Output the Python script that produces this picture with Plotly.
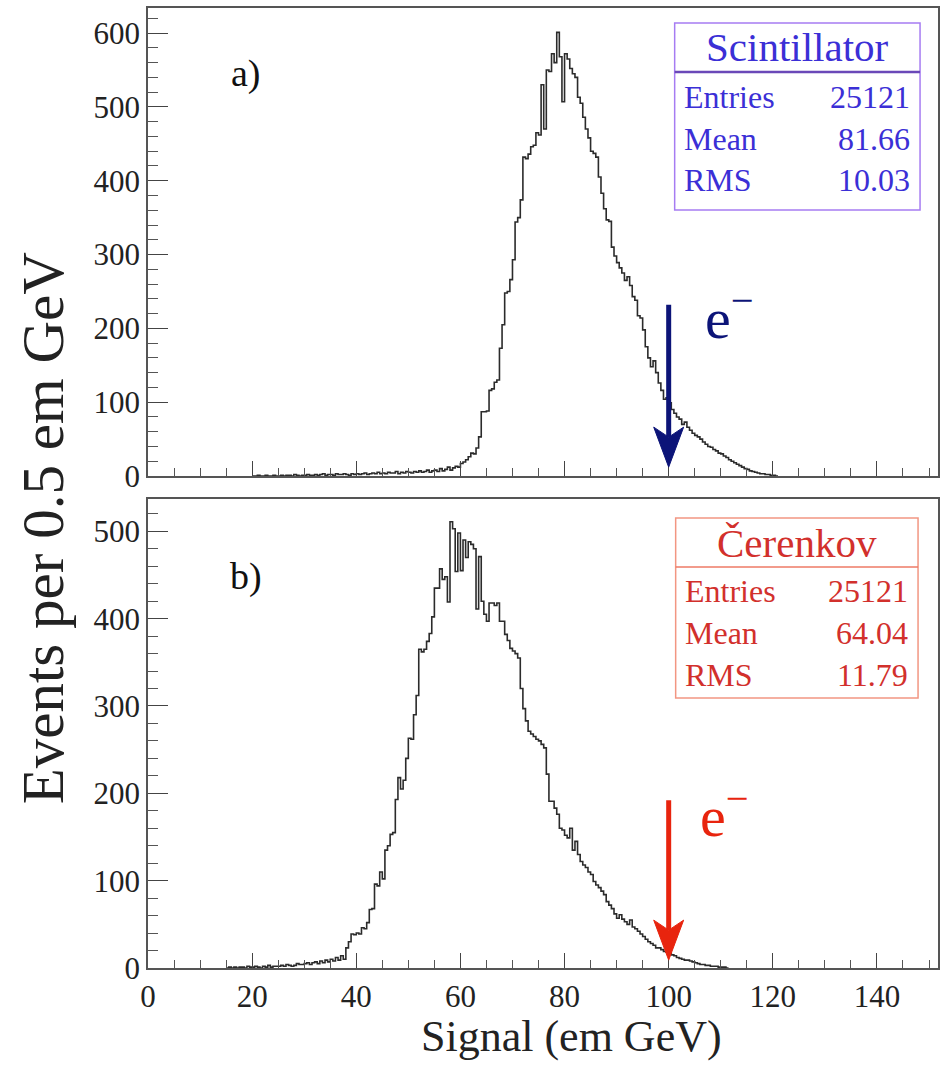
import plotly.graph_objects as go
from plotly.subplots import make_subplots

# ---------------- data ----------------
bin_width = 0.5  # em GeV per bin

# a) Scintillator signal, bins of 0.5 em GeV starting at 20.0
scint_start = 20.0
scint_counts = [
    0, 0, 1, 0, 0, 1, 0, 0, 1, 0, 0, 1, 0, 1, 1, 0, 2, 1, 0, 1,
    1, 2, 1, 1, 2, 1, 2, 3, 1, 2, 2, 1, 3, 2, 2, 3, 2, 1, 3, 2,
    3, 2, 3, 4, 2, 3, 4, 3, 5, 3, 4, 3, 5, 4, 4, 6, 3, 5, 4, 6,
    5, 4, 6, 5, 7, 5, 6, 8, 5, 7,
    8, 6, 10, 7, 9, 12, 8, 11, 13, 12,
    17, 19, 22, 26, 31, 30, 38, 53, 87, 87,
    88, 116, 118, 127, 130, 173, 205, 248, 250, 266,
    293, 344, 350, 374, 432, 430, 436, 446, 448, 465,
    462, 530, 470, 550, 548, 572, 560, 601, 568, 507,
    572, 565, 552, 545, 540, 513, 505, 486, 470, 458,
    440, 437, 432, 405, 383, 362, 347, 345, 310, 298,
    289, 282, 275, 265, 270, 258, 243, 238, 217, 214,
    198, 175, 160, 148, 156, 140, 126, 116, 104, 106,
    99, 90, 85, 80, 77, 70, 73, 66, 62, 58,
    55, 53, 50, 46, 43, 40, 39, 36, 34, 31,
    30, 27, 25, 22, 20, 18, 16, 14, 12, 10,
    9, 7, 6, 5, 4, 3, 3, 2, 2, 1,
    1, 0,
]

# b) Cerenkov signal, bins of 0.5 em GeV starting at 15.0
ceren_start = 15.0
ceren_counts = [
    0, 1, 0, 1, 0, 1, 1, 0, 2, 1,
    1, 2, 1, 0, 2, 1, 3, 1, 2, 2,
    2, 3, 2, 4, 3, 2, 3, 5, 4, 4,
    5, 6, 4, 6, 7, 5, 8, 6, 9, 7,
    10, 8, 12, 9, 14, 10,
    23, 30, 39, 38, 40, 39, 46, 45, 52, 67,
    68, 96, 94, 110, 102, 135, 140, 153, 155, 193,
    218, 205, 215, 240, 263, 262, 290, 312, 365, 362,
    365, 374, 383, 402, 435, 435, 457, 445, 448, 419,
    511, 503, 454, 498, 455, 490, 470, 488, 485, 480,
    411, 471, 420, 405, 397, 418, 418, 415, 418, 397,
    397, 382, 375, 366, 363, 360, 355, 320, 297, 283,
    271, 268, 265, 262, 260, 256, 252, 222, 191, 191,
    183, 176, 160, 158, 152, 149, 160, 135, 145, 130,
    122, 118, 115, 110, 107, 99, 95, 92, 88, 84,
    76, 72, 68, 62, 57, 61, 56, 53, 50, 55,
    47, 45, 42, 39, 36, 33, 30, 28, 26, 23,
    23, 21, 19, 18, 17, 15, 14, 12, 11, 10,
    9, 9, 8, 7, 6, 5, 4, 4, 3, 3,
    2, 2, 2, 1, 1, 1, 0,
]

x_tick_vals = [0, 20, 40, 60, 80, 100, 120, 140]
y_top_ticks = [0, 100, 200, 300, 400, 500, 600]
y_bot_ticks = [0, 100, 200, 300, 400, 500]

stats_labels = ["Entries", "Mean", "RMS"]
scint_stats = ["25121", "81.66", "10.03"]
ceren_stats = ["25121", "64.04", "11.79"]
electron_energy = 100.0

# ---------------- geometry helpers ----------------
W, H = 944, 1065
ML, MR, MT, MB = 148, 4, 8, 97
PW, PH = W - ML - MR, H - MT - MB


def px(x):
    return (x - ML) / PW


def py(y):
    return (H - MB - y) / PH


def step_xy(start, counts):
    xs = [start + i * bin_width for i in range(len(counts))]
    xs.append(start + len(counts) * bin_width)
    ys = list(counts) + [counts[-1]]
    return xs, ys


top_dom = [py(476), 1.0]
bot_dom = [0.0, py(499)]
x_range = [0, PW / 5.22]
y_top_range = [0, 634]
y_bot_range = [0, 537]

fig = make_subplots(rows=2, cols=1, shared_xaxes=False, vertical_spacing=0.0)

hist_line = dict(color="#2b2b2b", width=1.6, shape="hv")
xs, ys = step_xy(scint_start, scint_counts)
fig.add_trace(go.Scatter(x=xs, y=ys, mode="lines", line=hist_line,
                         hoverinfo="skip", showlegend=False), row=1, col=1)
xs, ys = step_xy(ceren_start, ceren_counts)
fig.add_trace(go.Scatter(x=xs, y=ys, mode="lines", line=hist_line,
                         hoverinfo="skip", showlegend=False), row=2, col=1)

serif = "Liberation Serif, Times New Roman, serif"
tick_font = dict(family=serif, size=31, color="#222222")
axis_line = dict(showline=True, linecolor="#555555", linewidth=1.5, mirror=True,
                 showgrid=False, zeroline=False)

common_x = dict(range=x_range, tickvals=x_tick_vals, ticks="inside", ticklen=15,
                tickwidth=1.3, tickcolor="#444444",
                minor=dict(dtick=5, ticks="inside", ticklen=8, tickcolor="#555555",
                           tickwidth=1.1),
                **axis_line)
fig.update_xaxes(domain=[0, 1], showticklabels=False, **common_x, row=1, col=1)
fig.update_xaxes(domain=[0, 1], showticklabels=True, tickfont=tick_font, **common_x,
                 row=2, col=1)

common_y = dict(ticks="inside", ticklen=20, tickwidth=1.3, tickcolor="#444444",
                minor=dict(dtick=20, ticks="inside", ticklen=10, tickcolor="#555555",
                           tickwidth=1.1),
                tickfont=tick_font, **axis_line)
fig.update_yaxes(domain=top_dom, range=y_top_range, tickvals=y_top_ticks, **common_y,
                 row=1, col=1)
fig.update_yaxes(domain=bot_dom, range=y_bot_range, tickvals=y_bot_ticks, **common_y,
                 row=2, col=1)

annotations = []
shapes = []

# axis titles
annotations.append(dict(text="Signal (em GeV)", xref="paper", yref="paper",
                        x=px(573), y=py(1036), showarrow=False,
                        font=dict(family=serif, size=44, color="#222222"),
                        xanchor="center", yanchor="middle"))
annotations.append(dict(text="Events per 0.5 em GeV", xref="paper", yref="paper",
                        x=px(43), y=py(528), showarrow=False, textangle=-90,
                        font=dict(family=serif, size=59, color="#222222"),
                        xanchor="center", yanchor="middle"))

# panel labels
for lab, yy in (("a)", 74), ("b)", 576)):
    annotations.append(dict(text=lab, xref="paper", yref="paper", x=px(246), y=py(yy),
                            showarrow=False, font=dict(family=serif, size=38, color="#111111"),
                            xanchor="center", yanchor="middle"))


def stats_box(x0, x1, y0, y1, ydiv, head, head_y, rows_y, values, txt_col, box_col,
              div_col, div_w):
    shapes.append(dict(type="rect", xref="paper", yref="paper", x0=px(x0), x1=px(x1),
                       y0=py(y1), y1=py(y0), line=dict(color=box_col, width=1.5),
                       fillcolor="white", layer="above"))
    shapes.append(dict(type="line", xref="paper", yref="paper", x0=px(x0), x1=px(x1),
                       y0=py(ydiv), y1=py(ydiv), line=dict(color=div_col, width=div_w),
                       layer="above"))
    annotations.append(dict(text=head, xref="paper", yref="paper", x=px((x0 + x1) / 2),
                            y=py(head_y), showarrow=False, xanchor="center",
                            yanchor="middle",
                            font=dict(family=serif, size=41, color=txt_col)))
    for lab, val, yy in zip(stats_labels, values, rows_y):
        annotations.append(dict(text=lab, xref="paper", yref="paper", x=px(x0 + 7),
                                y=py(yy), showarrow=False, xanchor="left",
                                yanchor="middle",
                                font=dict(family=serif, size=32, color=txt_col)))
        annotations.append(dict(text=val, xref="paper", yref="paper", x=px(x1 - 8),
                                y=py(yy), showarrow=False, xanchor="right",
                                yanchor="middle",
                                font=dict(family=serif, size=32, color=txt_col)))


stats_box(676, 922, 23, 210, 72, "Scintillator", 47, [97, 139, 180], scint_stats,
          "#3b2fd6", "#a67cf2", "#6a48b8", 2.5)
stats_box(677, 920, 518, 698, 567, "Čerenkov", 543, [591, 633, 675], ceren_stats,
          "#d2302c", "#f29682", "#ee7a66", 1.5)


# electron arrows drawn as shapes (shaft + notched head), sized in pixels
def arrow(xref, yref, yrange, dom, tip_val, tail_val, color):
    cpp = (yrange[1] - yrange[0]) / ((dom[1] - dom[0]) * PH)  # counts per pixel
    gpp = (x_range[1] - x_range[0]) / PW                       # GeV per pixel
    head_len, notch, half_w = 40 * cpp, 30 * cpp, 15 * gpp
    xc = electron_energy
    shapes.append(dict(type="line", xref=xref, yref=yref, x0=xc, x1=xc,
                       y0=tip_val + notch, y1=tail_val,
                       line=dict(color=color, width=5), layer="above"))
    path = (f"M {xc},{tip_val} L {xc - half_w},{tip_val + head_len} "
            f"L {xc},{tip_val + notch} L {xc + half_w},{tip_val + head_len} Z")
    shapes.append(dict(type="path", xref=xref, yref=yref, path=path,
                       fillcolor=color, line=dict(color=color, width=1), layer="above"))


arrow("x", "y", y_top_range, top_dom, 12, 232, "#0c1478")
arrow("x2", "y2", y_bot_range, bot_dom, 9, 192, "#e8240e")

annotations.append(dict(text="e<sup>−</sup>", xref="paper", yref="paper", x=px(704),
                        y=py(314), showarrow=False, xanchor="left", yanchor="middle",
                        font=dict(family=serif, size=58, color="#0c1478")))
annotations.append(dict(text="e<sup>−</sup>", xref="paper", yref="paper", x=px(699),
                        y=py(812), showarrow=False, xanchor="left", yanchor="middle",
                        font=dict(family=serif, size=58, color="#e8240e")))

fig.update_layout(width=W, height=H, margin=dict(l=ML, r=MR, t=MT, b=MB),
                  paper_bgcolor="white", plot_bgcolor="white",
                  annotations=annotations, shapes=shapes, showlegend=False)

fig.write_html("out.html")
